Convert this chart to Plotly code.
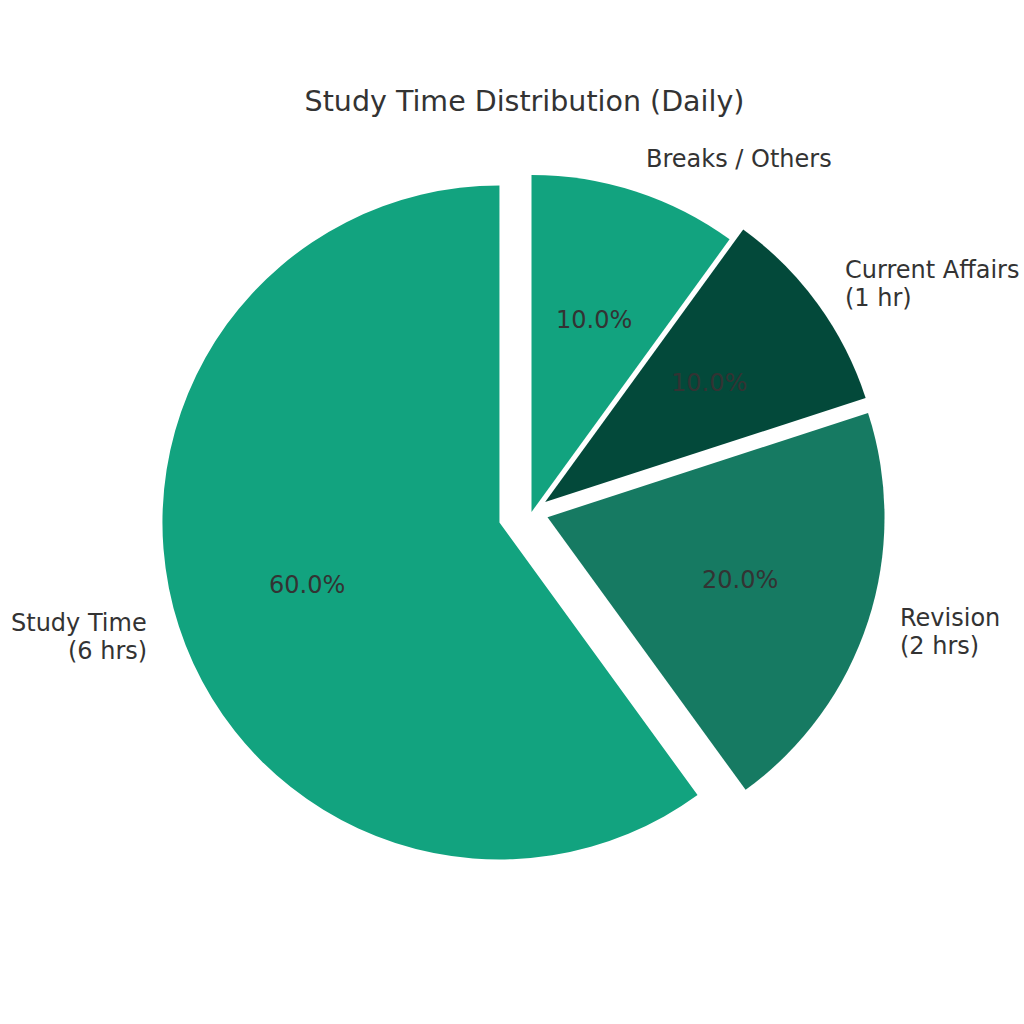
import math
import plotly.graph_objects as go

# data
categories = ['Study Time', 'Revision', 'Current Affairs', 'Breaks / Others']
hours = [6, 2, 1, 1]
hour_labels = ['6 hrs', '2 hrs', '1 hr', '']
slice_colors = ['#12a37f', '#167a62', '#03493a', '#12a37f']
explode = [0.1, 0.05, 0.05, 0.0]

# geometry (pixels of the page)
W, H = 1024, 1024
CX, CY = 531.5, 512.0    # pie centre
R = 337.0                # pie radius
LINE = 28                # line spacing of the two-line labels
TEXT = '#333333'
FONT = 'DejaVu Sans'


def to_paper(x, y):
    return x / W, 1 - y / H


half = R * (1 + max(explode))
x0, y1 = to_paper(CX - half, CY - half)
x1, y0 = to_paper(CX + half, CY + half)

total = sum(hours)
first_span = 360.0 * hours[0] / total

fig = go.Figure(go.Pie(
    labels=categories,
    values=hours,
    sort=False,
    direction='counterclockwise',
    rotation=360 - first_span,   # first slice starts at 12 o'clock going left
    pull=explode,
    marker=dict(colors=slice_colors, line=dict(width=0)),
    textinfo='none',
    hovertemplate='<b>%{label}</b><br>%{value} hrs (%{percent})<extra></extra>',
    domain=dict(x=[x0, x1], y=[y0, y1]),
))

# labels at 1.1 r and percentages at 0.6 r along the slice mid angles
start = 90.0
annotations = []
for cat, val, hl, pull in zip(categories, hours, hour_labels, explode):
    span = 360.0 * val / total
    mid = math.radians(start + span / 2)
    start += span
    ox = CX + pull * R * math.cos(mid)
    oy = CY - pull * R * math.sin(mid)
    lx = ox + 1.1 * R * math.cos(mid)
    ly = oy - 1.1 * R * math.sin(mid)
    side = 'left' if math.cos(mid) > 0 else 'right'
    lines = [cat] + ([f'({hl})'] if hl else [])
    for k, line in enumerate(lines):
        yy = ly + (k - (len(lines) - 1) / 2) * LINE
        ax, ay = to_paper(lx, yy)
        annotations.append(dict(
            x=ax, y=ay, xref='paper', yref='paper',
            text=line, showarrow=False,
            xanchor=side, yanchor='middle',
            xshift=2 if side == 'right' else -2,
            font=dict(family=FONT, size=24, color=TEXT),
        ))
    px = ox + 0.6 * R * math.cos(mid)
    py = oy - 0.6 * R * math.sin(mid)
    ax, ay = to_paper(px, py)
    annotations.append(dict(
        x=ax, y=ay, xref='paper', yref='paper',
        text=f'{100 * val / total:.1f}%', showarrow=False,
        xanchor='center', yanchor='middle',
        font=dict(family=FONT, size=24, color=TEXT),
    ))

tx, ty = to_paper(524.5, 101)
fig.update_layout(
    width=W,
    height=H,
    showlegend=False,
    paper_bgcolor='white',
    plot_bgcolor='white',
    margin=dict(l=0, r=0, t=0, b=0),
    title=dict(
        text='Study Time Distribution (Daily)',
        x=tx,
        y=ty,
        xanchor='center',
        yanchor='middle',
        font=dict(family=FONT, size=28.5, color=TEXT),
    ),
    annotations=annotations,
)

# drop the browser's default 8px body margin so the figure fills the window
fig.write_html('out.html', config={'displayModeBar': False},
               post_script="document.body.style.margin = '0';")
